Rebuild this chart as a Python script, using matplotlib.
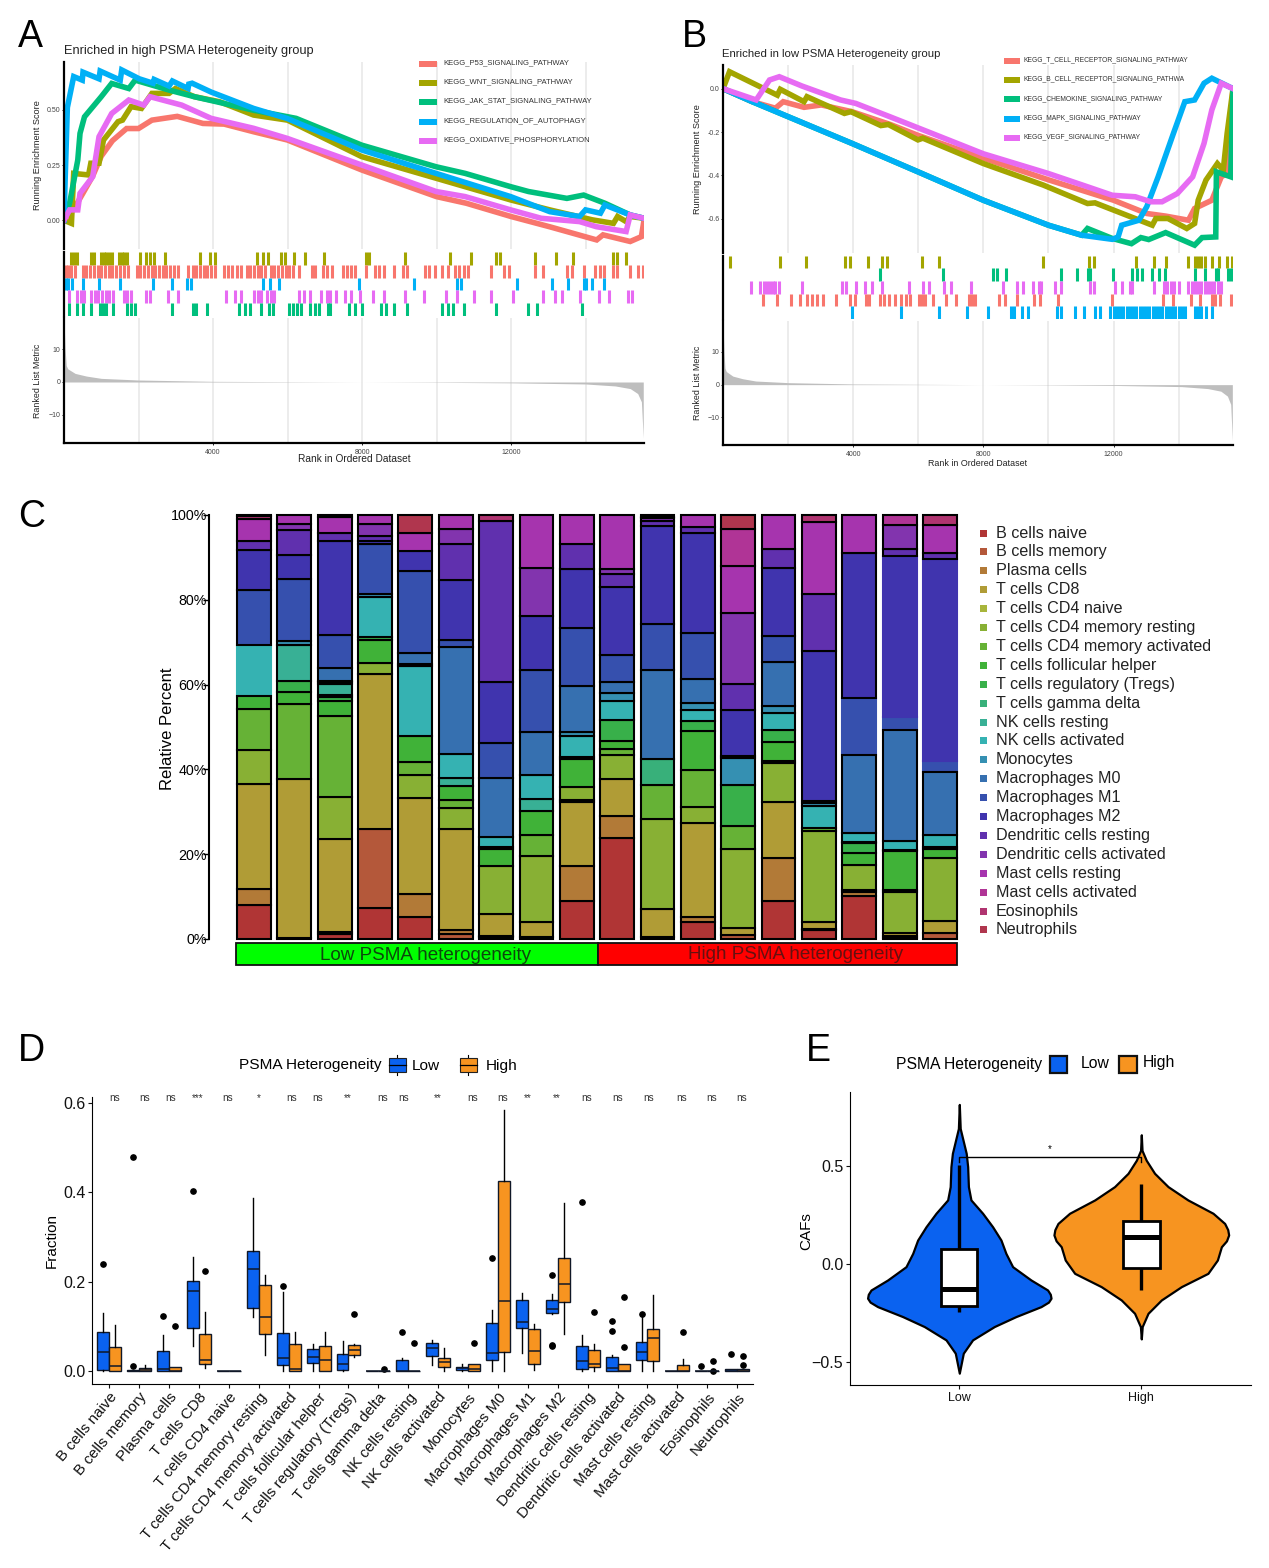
import numpy as np
import matplotlib
matplotlib.use('Agg')
import matplotlib.pyplot as plt
import matplotlib.patches as mpatches

plt.rcParams['font.family'] = ['Liberation Sans', 'DejaVu Sans']

W, H = 1269, 1568
RED, OLIVE, GREEN, BLUE, MAGENTA = '#F8766D', '#A3A500', '#00BF7D', '#00B0F6', '#E76BF3'
BOX_BLUE, BOX_ORANGE = '#0A62F0', '#F79420'

# ---------- panel A, running score (rank in thousands, score) ----------
a_names = ['KEGG_P53_SIGNALING_PATHWAY', 'KEGG_WNT_SIGNALING_PATHWAY', 'KEGG_JAK_STAT_SIGNALING_PATHWAY',
           'KEGG_REGULATION_OF_AUTOPHAGY', 'KEGG_OXIDATIVE_PHOSPHORYLATION']
a_p53_rank = [0, .26, .5, .77, 1.0, 1.3, 1.68, 2.0, 2.36, 3.04, 3.73, 4.3, 5.1, 6, 8, 10, 10.8, 12, 13.05, 14.3, 14.47, 15.2, 15.5, 15.57]
a_p53_es = [0, .05, .12, .2, .29, .36, .415, .415, .453, .47, .438, .435, .40, .363, .227, .107, .077, .017, -.03, -.089, -.066, -.096, -.074, 0]
a_wnt_rank = [0, .2, .26, .66, .72, .94, 1.06, 1.45, 1.57, 1.8, 2.08, 2.36, 2.82, 2.99, 3.5, 4.18, 5.09, 6, 7.99, 9.99, 11.99, 13.04, 14.18, 14.75, 14.86, 15.09, 15.2, 15.57]
a_wnt_es = [0, -.014, .212, .205, .258, .258, .363, .446, .453, .514, .506, .574, .574, .596, .559, .536, .476, .453, .288, .19, .092, .047, .002, -.014, .017, -.006, .017, .009]
a_jak_rank = [0, .15, .37, .43, .55, 1.0, 1.28, 1.74, 1.91, 2.82, 3.5, 5.09, 6.23, 7.99, 9.99, 10.77, 11.99, 12.47, 13.5, 13.95, 14.52, 15.2, 15.57]
a_jak_es = [0, .077, .273, .393, .468, .559, .619, .596, .634, .589, .559, .498, .461, .34, .242, .212, .152, .13, .099, .114, .077, .024, .009]
a_auto_rank = [0, .03, .09, .26, .49, .51, .94, .97, 1.51, 1.55, 2.02, 2.39, 2.42, 2.82, 2.91, 3.33, 3.35, 3.44, 3.95, 5.09, 6, 7.99, 9.99, 11.99, 13.04, 13.84, 14.0, 14.4, 14.52, 15.2, 15.57]
a_auto_es = [0, .18, .51, .65, .634, .67, .64, .675, .634, .68, .64, .62, .637, .607, .63, .596, .616, .62, .58, .506, .46, .318, .212, .107, .039, .017, .047, .032, .069, .024, .009]
a_ox_rank = [0, .15, .37, .43, .77, .94, 1.28, 1.74, 2.14, 2.31, 3.16, 3.95, 5.09, 6, 7.99, 9.99, 10.77, 11.99, 12.81, 13.84, 14.29, 15.09, 15.2, 15.57]
a_ox_es = [0, .047, .047, .122, .197, .378, .483, .544, .521, .559, .521, .461, .416, .37, .25, .13, .107, .047, .009, -.006, -.029, -.051, .024, .009]

# gene hits for the rug, rank in thousands
a_wnt_hits = [.2, .27, .35, .73, .8, 1.0, 1.07, 1.14, 1.21, 1.28, 1.48, 1.55, 1.62, 1.69, 2.05, 2.2, 2.3, 2.42, 2.7, 3.65, 3.93, 4.06, 5.19, 5.33, 5.47, 5.82, 5.92, 6.18, 6.48, 6.99, 8.1, 8.2, 9.15, 10.37, 10.93, 11.6, 11.7, 12.65, 13.2, 13.66, 14.75, 14.85, 15.1]
a_p53_hits = [.05, .12, .2, .3, .5, .6, .7, .8, .9, 1.0, 1.1, 1.2, 1.3, 1.4, 1.5, 1.6, 1.72, 1.97, 2.05, 2.15, 2.25, 2.35, 2.45, 2.55, 2.65, 2.75, 2.85, 2.95, 3.05, 3.32, 3.45, 3.55, 3.65, 3.75, 3.85, 3.95, 4.05, 4.3, 4.4, 4.5, 4.65, 4.75, 4.9, 5.0, 5.1, 5.2, 5.3, 5.4, 5.55, 5.65, 5.75, 5.85, 5.95, 6.05, 6.15, 6.3, 6.65, 6.75, 6.95, 7.05, 7.2, 7.5, 7.6, 7.7, 7.8, 8.1, 8.35, 8.45, 8.6, 8.85, 9.1, 9.2, 9.7, 9.8, 9.95, 10.15, 10.3, 10.5, 10.6, 10.75, 10.85, 11.45, 11.8, 11.95, 12.65, 12.85, 13.5, 13.65, 13.95, 14.25, 14.4, 14.5, 14.75, 14.85, 15.2, 15.4, 15.55]
a_auto_hits = [.05, .12, .22, .51, .94, 1.51, 2.39, 2.9, 3.3, 3.4, 5.34, 5.54, 5.77, 7.93, 9.4, 10.55, 10.65, 12.16, 13.1, 13.53, 13.95, 14.02, 14.18, 14.5]
a_ox_hits = [.13, .35, .45, .55, .72, .82, .92, 1.02, 1.12, 1.22, 1.32, 1.6, 1.7, 1.8, 2.2, 2.3, 2.8, 3.05, 4.35, 4.6, 4.75, 5.1, 5.2, 5.3, 5.45, 5.55, 5.65, 6.3, 6.45, 6.6, 6.9, 7.05, 7.15, 7.3, 7.55, 7.7, 7.95, 8.3, 8.6, 9.15, 9.67, 10.25, 10.55, 11.0, 11.45, 12.05, 12.87, 13.18, 13.38, 13.86, 14.35, 14.63, 15.15, 15.25]
a_jak_hits = [.13, .35, .5, .72, .97, 1.05, 1.12, 1.32, 1.7, 1.8, 1.9, 2.9, 3.45, 3.55, 3.84, 4.7, 4.85, 5.0, 5.3, 5.5, 5.6, 6.05, 6.15, 6.25, 6.35, 6.6, 6.75, 6.85, 7.1, 7.15, 7.65, 7.8, 8.0, 8.5, 8.65, 8.85, 9.2, 10.15, 10.3, 10.45, 10.75, 11.6, 12.45, 12.7, 13.9]

metric_rank = [0, .03, .06, .1, .3, .6, 1, 2, 4, 6, 8, 10, 12, 14, 14.8, 15.2, 15.4, 15.5, 15.55]
metric_val = [19, 10, 5, 4, 2.6, 1.8, 1.1, .6, .2, .1, 0, -.1, -.25, -.6, -1.2, -2, -3.5, -6, -17]

# ---------- panel B ----------
b_names = ['KEGG_T_CELL_RECEPTOR_SIGNALING_PATHWAY', 'KEGG_B_CELL_RECEPTOR_SIGNALING_PATHWA', 'KEGG_CHEMOKINE_SIGNALING_PATHWAY',
           'KEGG_MAPK_SIGNALING_PATHWAY', 'KEGG_VEGF_SIGNALING_PATHWAY']
b_tcr_rank = [0, .9, 1.61, 1.85, 2.49, 3.02, 3.96, 5.14, 5.99, 8, 10, 12, 13.02, 13.6, 14.3, 14.49, 15.02, 15.31, 15.49, 15.67]
b_tcr_es = [0, -.06, -.09, -.06, -.086, -.075, -.106, -.165, -.215, -.32, -.42, -.514, -.575, -.587, -.606, -.552, -.514, -.406, -.39, 0]
b_bcr_rank = [0, .2, 1.67, 1.76, 2.49, 2.58, 3.73, 3.93, 4.85, 5.08, 5.99, 6.14, 8, 9.84, 11.2, 11.43, 13.19, 13.3, 13.67, 14.25, 14.49, 14.6, 14.84, 15.19, 15.37, 15.49, 15.67]
b_bcr_es = [0, .078, -.03, -.003, -.06, -.037, -.114, -.106, -.17, -.165, -.236, -.228, -.345, -.444, -.529, -.526, -.629, -.598, -.598, -.644, -.621, -.514, -.421, -.345, -.375, -.206, 0]
b_chem_rank = [0, .9, 3.96, 5.99, 8, 10, 11.02, 11.2, 11.96, 12.55, 12.84, 13.08, 13.6, 14.49, 14.72, 15.14, 15.16, 15.6, 15.67]
b_chem_es = [0, -.06, -.252, -.383, -.514, -.629, -.675, -.644, -.69, -.714, -.686, -.695, -.663, -.721, -.686, -.683, -.383, -.406, 0]
b_mapk_rank = [0, .9, 3.96, 5.99, 8, 10, 11.02, 11.96, 12.14, 12.25, 12.78, 13.02, 13.37, 13.84, 14.19, 14.49, 14.78, 15.02, 15.67]
b_mapk_es = [0, -.06, -.252, -.383, -.514, -.629, -.675, -.694, -.683, -.629, -.606, -.544, -.406, -.206, -.06, -.052, .025, .048, 0]
b_vegf_rank = [0, 1.02, 1.43, 1.73, 2.43, 3.61, 4.08, 5.14, 6.32, 8, 10, 11.2, 11.96, 12.67, 13.14, 13.49, 13.96, 14.43, 14.78, 15.02, 15.31, 15.67]
b_vegf_es = [0, -.052, .04, .055, .012, -.052, -.068, -.13, -.2, -.3, -.391, -.452, -.491, -.498, -.521, -.521, -.483, -.406, -.252, -.098, .025, 0]

b_bcr_hits = [.22, 1.75, 2.55, 3.75, 3.9, 4.46, 4.9, 5.05, 6.1, 6.65, 9.84, 11.25, 11.4, 12.7, 13.25, 13.6, 14.29, 14.5, 14.6, 14.7, 14.8, 15.04, 15.23, 15.49, 15.63]
b_chem_hits = [4.81, 6.76, 8.29, 8.43, 8.7, 10.37, 10.88, 11.2, 11.28, 11.98, 12.57, 12.72, 12.87, 13.17, 13.41, 13.58, 14.49, 14.8, 15.16, 15.22, 15.52, 15.6]
b_vegf_hits = [.86, 1.14, 1.25, 1.35, 1.45, 1.55, 1.61, 1.73, 2.43, 3.67, 3.79, 4.08, 4.35, 4.57, 4.9, 5.73, 6.14, 6.32, 6.79, 7.02, 7.63, 8.6, 9.04, 9.22, 9.51, 9.7, 9.78, 10.2, 10.37, 11.28, 11.4, 12.04, 12.25, 12.5, 12.57, 13.25, 13.55, 13.65, 13.75, 13.85, 14.02, 14.3, 14.4, 14.5, 14.6, 14.7, 14.8, 14.9, 15.0, 15.1, 15.2, 15.3]
b_tcr_hits = [1.23, 1.65, 2.08, 2.38, 2.58, 2.73, 2.9, 3.08, 3.46, 3.9, 4.05, 4.38, 4.5, 4.81, 4.96, 5.1, 5.28, 5.46, 5.61, 5.75, 6.02, 6.12, 6.2, 6.46, 6.85, 7.16, 7.55, 7.65, 7.75, 8.49, 8.67, 9.04, 9.57, 9.75, 10.28, 11.96, 13.52, 13.84, 14.37, 14.67, 15.02, 15.12, 15.28, 15.61]
b_mapk_hits = [3.96, 5.46, 6.64, 7.49, 8.14, 8.85, 8.95, 9.2, 9.37, 10.25, 10.4, 10.82, 11.1, 11.43, 11.57, 11.9, 12.0, 12.1, 12.2, 12.3, 12.4, 12.5, 12.6, 12.7, 12.8, 12.9, 13.0, 13.1, 13.2, 13.3, 13.4, 13.5, 13.6, 13.7, 13.8, 13.9, 14.0, 14.1, 14.2, 14.5, 14.6, 14.7, 14.85, 15.02]

# ---------- panel C, percent per sample ----------
cell_types = ['B cells naive', 'B cells memory', 'Plasma cells', 'T cells CD8', 'T cells CD4 naive',
              'T cells CD4 memory resting', 'T cells CD4 memory activated', 'T cells follicular helper',
              'T cells regulatory (Tregs)', 'T cells gamma delta', 'NK cells resting', 'NK cells activated',
              'Monocytes', 'Macrophages M0', 'Macrophages M1', 'Macrophages M2', 'Dendritic cells resting',
              'Dendritic cells activated', 'Mast cells resting', 'Mast cells activated', 'Eosinophils', 'Neutrophils']
cell_colors = ['#B03535', '#B4583A', '#B27A37', '#B09C36', '#A8B53B', '#88B034', '#66B236', '#40B238', '#38B04A',
               '#38B07A', '#38B095', '#35B2B2', '#3590B2', '#3670B0', '#3650AE', '#4034AE', '#6030AE', '#8234AE',
               '#A634AE', '#B03496', '#B03470', '#B0364E']
sample_percent = [
    [8.0, 0, 3.7, 25.0, 0, 7.9, 9.6, 3.1, 0, 0, 0, 12.0, 0, 0, 13.0, 9.6, 2.0, 0, 5.3, 0, 0.6, 0.3],
    [0.3, 0, 0, 37.4, 0, 0, 17.5, 2.9, 2.4, 0, 8.6, 0, 0.9, 0, 14.5, 5.7, 5.8, 1.4, 2.2, 0, 0, 0],
    [1.2, 0, 0.4, 21.8, 0, 10.0, 18.9, 3.7, 0.8, 0.4, 2.8, 0.3, 0.3, 3.0, 7.7, 22.3, 1.7, 0, 3.9, 0, 0.4, 0],
    [7.2, 18.6, 0, 36.6, 0, 2.4, 0, 5.4, 0.9, 0, 0, 9.4, 0.7, 0, 11.6, 0.8, 1.2, 2.9, 2.0, 0, 0, 0],
    [5.3, 0, 5.3, 22.6, 0, 5.5, 3.0, 6.2, 0, 0, 0, 16.6, 0.4, 2.6, 19.2, 4.7, 0, 0, 4.4, 0, 0, 4.2],
    [0, 1.2, 0.9, 23.8, 0, 4.9, 2.0, 3.3, 0, 0, 1.8, 5.7, 0, 25.3, 1.6, 14.2, 8.3, 3.7, 3.2, 0, 0, 0],
    [0.5, 0.2, 0, 5.3, 0, 11.3, 0, 4.0, 0.3, 0, 0, 2.4, 0, 13.8, 8.3, 14.5, 37.9, 0, 0, 0, 1.3, 0],
    [0.5, 0, 0, 3.6, 0, 15.3, 5.0, 5.7, 0, 0, 2.8, 5.7, 0, 9.9, 14.7, 12.7, 0, 11.2, 12.4, 0, 0, 0],
    [9.0, 0, 8.1, 15.1, 0.4, 3.1, 0, 6.7, 0.3, 0, 0, 5.1, 0.8, 10.9, 13.6, 14.0, 5.7, 0, 6.9, 0, 0, 0],
    [23.9, 0, 5.0, 8.9, 0, 5.7, 1.2, 2.0, 5.0, 0, 0, 4.5, 1.8, 2.5, 6.5, 16.1, 2.9, 1.2, 12.8, 0, 0, 0],
    [0.4, 0, 0, 6.7, 0, 21.1, 8.2, 0, 0, 6.1, 0, 0, 0, 21.0, 10.7, 23.3, 1.0, 0.8, 0, 0, 0.3, 0.4],
    [4.1, 0, 1.2, 22.0, 0, 3.8, 8.8, 9.0, 2.5, 0, 0, 2.6, 1.7, 5.6, 10.8, 23.6, 1.4, 0, 2.8, 0, 0, 0],
    [0, 0.9, 0, 1.7, 0, 18.6, 5.5, 0, 9.6, 0, 0, 0, 6.3, 0.4, 0, 11.0, 6.1, 16.7, 11.0, 8.6, 0, 3.4],
    [9.0, 0, 10.0, 13.2, 0, 9.2, 0.5, 4.4, 2.9, 0, 0, 3.9, 1.6, 10.5, 6.0, 16.1, 4.3, 0, 8.1, 0, 0, 0],
    [2.1, 0.3, 0, 1.6, 0, 21.5, 0.6, 0, 0, 0, 0, 5.1, 0.9, 0.3, 0, 35.4, 13.4, 0, 17.0, 0, 1.6, 0],
    [10.2, 0, 0.9, 0.5, 0, 5.9, 0, 2.8, 2.4, 0.3, 0, 2.0, 0, 18.5, 13.4, 34.3, 0, 0, 9.1, 0, 0, 0],
    [0, 0.3, 0.3, 0.8, 0, 9.7, 0.5, 9.0, 0.3, 0, 0, 2.1, 0, 26.2, 3.1, 37.7, 1.6, 5.7, 0, 2.4, 0, 0],
    [0, 1.3, 0, 3.0, 0, 14.7, 0, 2.2, 0.5, 0, 0, 2.8, 0, 14.9, 2.4, 47.7, 1.3, 0, 6.6, 0, 2.4, 0],
]
# segments where the black outline is missing in the source figure (sample, cell type)
no_outline = [(0, 11), (15, 14), (16, 14), (16, 15), (17, 14), (17, 15)]

# ---------- panel D, box stats per cell type ----------
low_q1 = [.002, 0, .001, .097, 0, .14, .013, .018, .002, 0, 0, .033, .003, .024, .096, .129, .004, 0, .024, 0, 0, 0]
low_med = [.042, .001, .005, .178, 0, .228, .029, .031, .016, 0, 0, .052, .006, .04, .109, .139, .023, .006, .042, 0, 0, .002]
low_q3 = [.088, .002, .044, .202, 0, .268, .085, .049, .037, 0, .025, .063, .009, .107, .158, .158, .057, .031, .065, 0, 0, .004]
low_lo = [0, 0, 0, .056, 0, .12, 0, 0, 0, 0, 0, .013, 0, 0, .04, .127, 0, 0, 0, 0, 0, 0]
low_hi = [.13, .002, .08, .254, 0, .387, .177, .06, .067, 0, .03, .07, .015, .137, .175, .173, .08, .035, .127, 0, 0, .005]
low_out = [[.24], [.012, .479], [.124], [.402], [], [], [.19], [], [], [], [.088], [], [], [.252], [], [.215, .059, .057], [.378], [.112, .09], [.127], [], [.012], [.038]]
high_q1 = [0, 0, 0, .015, 0, .082, 0, 0, .035, 0, 0, .01, 0, .043, .015, .154, .009, 0, .022, 0, 0, 0]
high_med = [.011, .002, .001, .024, 0, .121, .004, .024, .046, 0, 0, .02, .004, .157, .044, .194, .015, 0, .073, 0, 0, .002]
high_q3 = [.053, .007, .009, .083, 0, .192, .06, .056, .058, 0, 0, .03, .015, .424, .094, .253, .048, .015, .095, .014, 0, .005]
high_lo = [0, 0, 0, .006, 0, .035, 0, 0, .032, 0, 0, 0, 0, 0, .003, .083, 0, 0, 0, 0, 0, 0]
high_hi = [.103, .013, .009, .133, 0, .215, .088, .088, .06, 0, 0, .052, .015, .585, .105, .376, .06, .015, .169, .026, 0, .005]
high_out = [[], [], [.1], [.224], [], [], [], [], [.128], [.005], [.062], [], [.062], [], [], [], [.131], [.165, .054], [], [.087], [.022, 0], [.034, .013]]
sig_labels = ['ns', 'ns', 'ns', '***', 'ns', '*', 'ns', 'ns', '**', 'ns', 'ns', '**', 'ns', 'ns', '**', '**', 'ns', 'ns', 'ns', 'ns', 'ns', 'ns']
sig_px = [115, 145, 171, 198, 228, 259, 292, 318, 348, 383, 404, 438, 473, 503, 528, 557, 587, 618, 649, 682, 712, 742]

# ---------- panel E, violin outline (CAFs value, half width) and box ----------
low_y = [.815, .692, .565, .497, .395, .327, .259, .19, .122, .054, -.014, -.082, -.133, -.155, -.175, -.195, -.218, -.269, -.32, -.388, -.456, -.558]
low_w = [0, .005, .038, .046, .05, .064, .128, .183, .229, .256, .293, .394, .485, .5, .504, .49, .449, .311, .192, .073, .022, 0]
high_y = [.66, .58, .53, .463, .395, .327, .259, .207, .175, .148, .118, .088, .02, -.048, -.116, -.184, -.252, -.32, -.383]
high_w = [0, .004, .027, .073, .147, .256, .394, .458, .475, .48, .468, .44, .418, .366, .22, .11, .037, .005, 0]
caf_box = {'Low': (-.213, -.126, .077, -.248, .505), 'High': (-.022, .139, .219, -.133, .408)}

fig = plt.figure(figsize=(W / 100, H / 100), dpi=100)


def px_axes(x0, y0, x1, y1):
    return fig.add_axes([x0 / W, 1 - y1 / H, (x1 - x0) / W, (y1 - y0) / H])


ov = fig.add_axes([0, 0, 1, 1], zorder=10)
ov.set_xlim(0, W)
ov.set_ylim(H, 0)
ov.axis('off')

for letter, lx, ly in [('A', 18, 37), ('B', 682, 37), ('C', 18, 517), ('D', 18, 1051), ('E', 806, 1051)]:
    ov.text(lx, ly, letter, fontsize=27, va='center', ha='left', color='black')


def gsea_panel(x0, x1, y0, y1, rug_y0, rug_y1, m_y0, m_y1, rank_max, ylim, yticks, yfmt,
               curves, rugs, names, colors, title, title_xy, title_fs, lab_x, leg_px, leg_txt, leg_ys, leg_fs, xlab_xy, xlab_fs):
    grid = np.arange(2000, 14001, 2000)
    # running score
    ax = px_axes(x0, y0, x1, y1)
    ax.set_xlim(0, rank_max)
    ax.set_ylim(*ylim)
    ax.vlines(grid, *ylim, color='#EBEBEB', lw=1.3, zorder=0)
    for (rk, es), col in zip(curves, colors):
        ax.plot(np.array(rk) * 1000, es, color=col, lw=4, solid_joinstyle='miter')
    for s in ['top', 'right', 'bottom']:
        ax.spines[s].set_visible(False)
    ax.spines['left'].set_linewidth(1.6)
    ax.set_xticks([])
    ax.set_yticks(yticks)
    ax.set_yticklabels([yfmt % v for v in yticks])
    ax.tick_params(axis='y', length=1.5, width=.6, labelsize=5, pad=1, labelcolor='#444444')
    # gene hit rug
    rx = px_axes(x0, rug_y0, x1, rug_y1)
    rx.set_xlim(0, rank_max)
    rx.set_ylim(len(rugs), 0)
    for i, (hits, col) in enumerate(rugs):
        rx.vlines(np.array(hits) * 1000, i, i + 1, color=col, lw=2.2)
    for s in ['top', 'right', 'bottom']:
        rx.spines[s].set_visible(False)
    rx.spines['left'].set_linewidth(1.6)
    rx.set_xticks([])
    rx.set_yticks([])
    # ranked metric
    mx = px_axes(x0, m_y0, x1, m_y1)
    mx.set_xlim(0, rank_max)
    mx.set_ylim(-18.4, 19.4)
    mx.vlines(grid, -18.4, 19.4, color='#EBEBEB', lw=1.3, zorder=0)
    mx.fill_between(np.array(metric_rank) * 1000 * rank_max / 15570, metric_val, 0, color='#BEBEBE', lw=0)
    for s in ['top', 'right']:
        mx.spines[s].set_visible(False)
    mx.spines['left'].set_linewidth(1.6)
    mx.spines['bottom'].set_linewidth(1.6)
    mx.set_xticks([4000, 8000, 12000])
    mx.set_yticks([-10, 0, 10])
    mx.tick_params(length=1.5, width=.6, labelsize=5, pad=1, labelcolor='#444444')
    mx.tick_params(axis='x', pad=3)
    mx.set_yticklabels(['\u221210', '0', '10'])
    # texts
    ov.text(title_xy[0], title_xy[1], title, fontsize=title_fs, va='center', ha='left', color='#222222')
    ov.text(lab_x, (y0 + y1) / 2, 'Running Enrichment Score', fontsize=6.6, rotation=90, va='center', ha='center', color='#222222')
    ov.text(lab_x, (m_y0 + m_y1) / 2, 'Ranked List Metric', fontsize=6.4, rotation=90, va='center', ha='center', color='#222222')
    ov.text(xlab_xy[0], xlab_xy[1], 'Rank in Ordered Dataset', fontsize=xlab_fs, va='center', ha='center', color='#222222')
    for name, col, ly in zip(names, colors, leg_ys):
        ov.add_patch(mpatches.Rectangle((leg_px[0], ly - 2.5), leg_px[1] - leg_px[0], 6, color=col, lw=0))
        ov.text(leg_txt, ly, name, fontsize=leg_fs, va='center', ha='left', color='#333333')


gsea_panel(64, 644, 62, 249, 252, 316, 318, 442.7, 15570, (-.13, .716), [0, .25, .5], '%.2f',
           [(a_p53_rank, a_p53_es), (a_wnt_rank, a_wnt_es), (a_jak_rank, a_jak_es), (a_auto_rank, a_auto_es), (a_ox_rank, a_ox_es)],
           [(a_wnt_hits, OLIVE), (a_p53_hits, RED), (a_auto_hits, BLUE), (a_ox_hits, MAGENTA), (a_jak_hits, GREEN)],
           a_names, [RED, OLIVE, GREEN, BLUE, MAGENTA],
           'Enriched in high PSMA Heterogeneity group', (64, 51), 9.2, 37, (419, 437), 443, [63, 82, 101, 121, 140], 5.5, (354, 459), 7.3)

gsea_panel(723, 1233, 65, 253, 255.5, 319, 321, 445, 15670, (-.757, .109), [-.6, -.4, -.2, 0], '%.1f',
           [(b_tcr_rank, b_tcr_es), (b_bcr_rank, b_bcr_es), (b_chem_rank, b_chem_es), (b_mapk_rank, b_mapk_es), (b_vegf_rank, b_vegf_es)],
           [(b_bcr_hits, OLIVE), (b_chem_hits, GREEN), (b_vegf_hits, MAGENTA), (b_tcr_hits, RED), (b_mapk_hits, BLUE)],
           b_names, [RED, OLIVE, GREEN, BLUE, MAGENTA],
           'Enriched in low PSMA Heterogeneity group', (722, 54), 8.2, 698, (1004, 1020), 1024, [60, 79, 98.7, 118, 137], 4.9, (978, 463), 6.4)

# ---------- panel C ----------
cx = px_axes(209, 515, 960, 939)
positions = np.arange(1, len(sample_percent) + 1)
cx.set_xlim(1 - 45 / 40.35, 1 + 706 / 40.35)
cx.set_ylim(0, 100)
for s, row in zip(positions, sample_percent):
    bottom = 0
    total = sum(row)
    for k, val in enumerate(row):
        if val == 0:
            continue
        height = val / total * 100
        plain = (s - 1, k) in no_outline
        cx.bar(s, height, bottom=bottom, width=.84, color=cell_colors[k],
               edgecolor=cell_colors[k] if plain else 'black', linewidth=1.5,
               clip_on=False, zorder=1 if plain else 2)
        bottom += height
for s in ['top', 'right', 'bottom']:
    cx.spines[s].set_visible(False)
cx.spines['left'].set_linewidth(1.5)
cx.set_xticks([])
cx.set_yticks([0, 20, 40, 60, 80, 100])
cx.set_yticklabels(['0%', '20%', '40%', '60%', '80%', '100%'])
cx.tick_params(axis='y', length=4, width=1, labelsize=10.3, pad=-2.5)
ov.text(167, 729, 'Relative Percent', fontsize=12, rotation=90, va='center', ha='center')
ov.add_patch(mpatches.Rectangle((235.5, 943), 362.5, 22, facecolor='#00FF00', edgecolor='#111111', lw=1.3))
ov.add_patch(mpatches.Rectangle((598, 943), 359, 22, facecolor='#FF0000', edgecolor='#111111', lw=1.3))
ov.text(426, 955, 'Low PSMA heterogeneity', fontsize=13.6, va='center', ha='center', color='#0C480C')
ov.text(796, 954.5, 'High PSMA heterogeneity', fontsize=13.6, va='center', ha='center', color='#661010')
for i, (name, col) in enumerate(zip(cell_types, cell_colors)):
    ly = 533 + i * 18.9
    ov.add_patch(mpatches.Rectangle((979.5, ly - 3.5), 7, 7, color=col, lw=0))
    ov.text(996, ly, name, fontsize=11.6, va='center', ha='left', color='#222222')

# ---------- panel D ----------
dx = px_axes(92, 1097, 753, 1384)
dx.set_xlim(1 - 17.3 / 29.9, 1 + 643.7 / 29.9)
dx.set_ylim(-.029, .613)


def draw_boxes(ax, offs, color, q1, med, q3, lo, hi, out):
    stats = [{'q1': a, 'med': b, 'q3': c, 'whislo': d, 'whishi': e, 'fliers': f}
             for a, b, c, d, e, f in zip(q1, med, q3, lo, hi, out)]
    ax.bxp(stats, positions=np.arange(1, len(q1) + 1) + offs, widths=.4, patch_artist=True, showcaps=False,
           boxprops=dict(facecolor=color, edgecolor='#101828', linewidth=1),
           medianprops=dict(color='#101828', linewidth=1.1),
           whiskerprops=dict(color='black', linewidth=1),
           flierprops=dict(marker='o', markerfacecolor='black', markeredgecolor='black', markersize=3.8),
           manage_ticks=False)


draw_boxes(dx, -.2, BOX_BLUE, low_q1, low_med, low_q3, low_lo, low_hi, low_out)
draw_boxes(dx, .2, BOX_ORANGE, high_q1, high_med, high_q3, high_lo, high_hi, high_out)
for s in ['top', 'right']:
    dx.spines[s].set_visible(False)
dx.set_xticks(np.arange(1, len(cell_types) + 1))
dx.set_xticklabels(cell_types, rotation=50, ha='right', rotation_mode='anchor', fontsize=10.9)
dx.set_yticks([0, .2, .4, .6])
dx.set_yticklabels(['0.0', '0.2', '0.4', '0.6'], fontsize=11.5)
dx.tick_params(axis='both', length=3, width=.8, pad=1.5, colors='#111111')
ov.text(52, 1241, 'Fraction', fontsize=11, rotation=90, va='center', ha='center')
for lab, sx in zip(sig_labels, sig_px):
    ov.text(sx, 1098, lab, fontsize=7.2, va='center', ha='center', color='#333333')
ov.text(239, 1065, 'PSMA Heterogeneity', fontsize=11.1, va='center', ha='left')
for kx, col, lab, tx in [(389, BOX_BLUE, 'Low', 412), (460, BOX_ORANGE, 'High', 486)]:
    ov.plot([kx + 8, kx + 8], [1055, 1075], color='black', lw=.8)
    ov.add_patch(mpatches.Rectangle((kx, 1058), 16.5, 14, facecolor=col, edgecolor='#222222', lw=.8, zorder=3))
    ov.plot([kx, kx + 16.5], [1065, 1065], color='black', lw=.9, zorder=4)
    ov.text(tx, 1066, lab, fontsize=11.1, va='center', ha='left')

# ---------- panel E ----------
ex = px_axes(850.3, 1091.7, 1251, 1385.3)
ex.set_xlim(1 - 109 / 182, 2 + 109.7 / 182)
ex.set_ylim(-.62, .88)
for pos, ys, ws, col in [(1, low_y, low_w, BOX_BLUE), (2, high_y, high_w, BOX_ORANGE)]:
    ys = np.array(ys)
    ws = np.array(ws)
    ex.fill_betweenx(ys, pos - ws, pos + ws, facecolor=col, edgecolor='black', linewidth=1.6, zorder=2, joinstyle='round')
for pos, key in [(1, 'Low'), (2, 'High')]:
    q1, med, q3, lo, hi = caf_box[key]
    ex.plot([pos, pos], [lo, hi], color='black', lw=2.4, zorder=3, solid_capstyle='butt')
    ex.add_patch(mpatches.Rectangle((pos - .1, q1), .2, q3 - q1, facecolor='white', edgecolor='black', lw=2, zorder=4))
    ex.plot([pos - .1, pos + .1], [med, med], color='black', lw=3.6, zorder=5, solid_capstyle='butt')
ex.plot([1, 1, 2, 2], [.522, .546, .546, .522], color='black', lw=1, zorder=6)
for s in ['top', 'right']:
    ex.spines[s].set_visible(False)
ex.set_xticks([1, 2])
ex.set_xticklabels(['Low', 'High'], fontsize=9)
ex.set_yticks([-.5, 0, .5])
ex.set_yticklabels(['\u22120.5', '0.0', '0.5'], fontsize=11.5)
ex.tick_params(axis='both', length=3, width=.8, pad=2, colors='#111111')
ov.text(1050, 1149, '*', fontsize=7, va='center', ha='center')
ov.text(806, 1231, 'CAFs', fontsize=11, rotation=90, va='center', ha='center')
ov.text(895.5, 1064, 'PSMA Heterogeneity', fontsize=11.3, va='center', ha='left')
ov.add_patch(mpatches.Rectangle((1049.5, 1056), 17.5, 17, facecolor=BOX_BLUE, edgecolor='#111111', lw=1.6))
ov.add_patch(mpatches.Rectangle((1119, 1056), 17.5, 17, facecolor=BOX_ORANGE, edgecolor='#111111', lw=1.6))
ov.text(1081, 1063, 'Low', fontsize=11.3, va='center', ha='left')
ov.text(1143, 1063, 'High', fontsize=11.3, va='center', ha='left')

fig.savefig('out.png', dpi=100)
plt.close(fig)
